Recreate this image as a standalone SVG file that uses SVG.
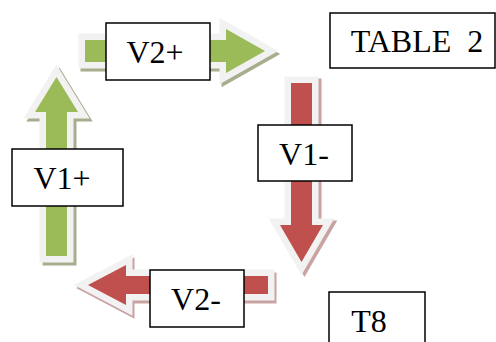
<svg xmlns="http://www.w3.org/2000/svg" width="496" height="342" viewBox="0 0 496 342">
  <defs>
    <style>
      .halo { fill: #f2f2f2; stroke: #f2f2f2; stroke-width: 13; stroke-linejoin: miter; stroke-miterlimit: 10; }
      .shade-g { fill: #a7ae8e; stroke: #a7ae8e; stroke-width: 13; stroke-miterlimit: 10; }
      .shade-r { fill: #c9a3a2; stroke: #c9a3a2; stroke-width: 13; stroke-miterlimit: 10; }
      .green { fill: #9bbb59; }
      .red { fill: #c0504d; }
      .box { fill: #ffffff; stroke: #000000; stroke-width: 1.5; }
      .lbl { font-family: "Liberation Serif", "Times New Roman", serif; font-size: 32px; fill: #000000; text-anchor: middle; }
    </style>
    <polygon id="shape-right" points="85,40 226,40 226,29 265,51 226,73 226,62 85,62"/>
    <polygon id="shape-down" points="291,83 312,83 312,225 323,225 301.5,262 280,225 291,225"/>
    <polygon id="shape-up" points="46,256 67,256 67,112 78,112 56.5,77 35,112 46,112"/>
    <polygon id="shape-left" points="268,276 126,276 126,265 88,285 126,305 126,294 268,294"/>
  </defs>

  <g id="connectors">
    <!-- V2+ : rightward green arrow -->
    <g id="arrow-v2plus">
      <use href="#shape-right" class="shade-g" transform="translate(2,3)"/>
      <use href="#shape-right" class="halo"/>
      <use href="#shape-right" class="green"/>
    </g>
    <!-- V1- : downward red arrow -->
    <g id="arrow-v1minus">
      <use href="#shape-down" class="shade-r" transform="translate(3,2)"/>
      <use href="#shape-down" class="halo"/>
      <use href="#shape-down" class="red"/>
    </g>
    <!-- V1+ : upward green arrow -->
    <g id="arrow-v1plus">
      <use href="#shape-up" class="shade-g" transform="translate(3,3)"/>
      <use href="#shape-up" class="halo"/>
      <use href="#shape-up" class="green"/>
    </g>
    <!-- V2- : leftward red arrow -->
    <g id="arrow-v2minus">
      <use href="#shape-left" class="shade-r" transform="translate(2,3)"/>
      <use href="#shape-left" class="halo"/>
      <use href="#shape-left" class="red"/>
    </g>
  </g>

  <g id="node-v2plus">
    <rect class="box" x="106" y="23" width="104" height="57"/>
    <text class="lbl" x="155" y="63">V2+</text>
  </g>

  <g id="node-table2">
    <rect class="box" x="330" y="13" width="165" height="55"/>
    <text class="lbl" x="417" y="52" xml:space="preserve">TABLE  2</text>
  </g>

  <g id="node-v1minus">
    <rect class="box" x="258" y="125" width="94" height="56"/>
    <text class="lbl" x="304" y="165">V1-</text>
  </g>

  <g id="node-v1plus">
    <rect class="box" x="12" y="149" width="111" height="57"/>
    <text class="lbl" x="62" y="189">V1+</text>
  </g>

  <g id="node-v2minus">
    <rect class="box" x="150" y="270" width="94" height="57"/>
    <text class="lbl" x="196" y="310">V2-</text>
  </g>

  <g id="node-t8">
    <rect class="box" x="329" y="292" width="96" height="60"/>
    <text class="lbl" x="369" y="332">T8</text>
  </g>
</svg>
